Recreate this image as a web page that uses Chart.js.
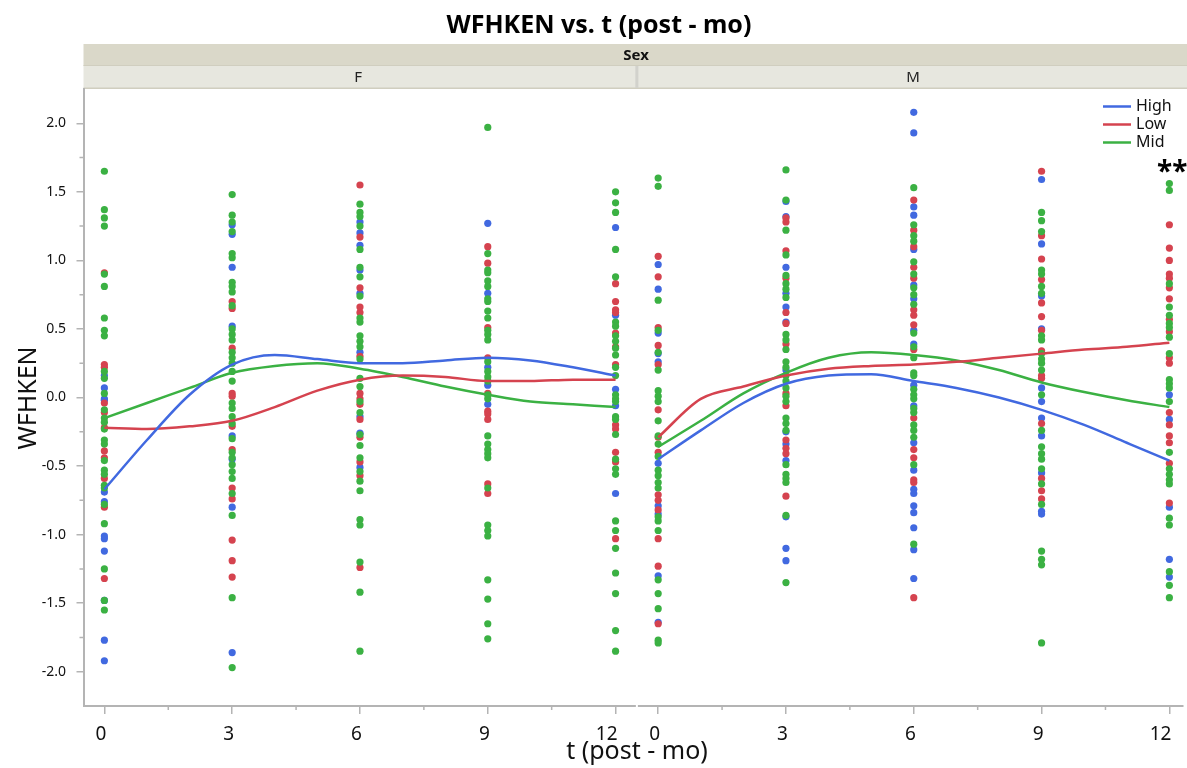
<!DOCTYPE html>
<html>
<head>
<meta charset="utf-8">
<script src="https://cdn.jsdelivr.net/npm/chart.js@4.4.1/dist/chart.umd.min.js"></script>
<style>
  html, body { margin: 0; padding: 0; background: #fff; overflow: hidden; }
</style>
</head>
<body>
<canvas id="chart" width="1187" height="768"></canvas>
<script>
// time points (months after) shared by both panels
const times = [0, 3, 6, 9, 12];
const groups = ['High', 'Low', 'Mid'];
const panels = ['F', 'M'];
const yTicks = [-2, -1.5, -1, -0.5, 0, 0.5, 1, 1.5, 2];

// WFHKEN values per time point, panel F
const fHigh = [
  [0.16, 0.07, -0.01, -0.02, -0.69, -0.76, -1.01, -1.03, -1.12, -1.48, -1.77, -1.92],
  [1.26, 1.19, 0.95, 0.52, -0.28, -0.45, -0.80, -1.86],
  [1.28, 1.20, 1.11, 0.93, 0.76, 0.33, -0.14, -0.26, -0.51],
  [1.27, 0.76, 0.22, 0.09, -0.05],
  [1.24, 0.60, 0.06, -0.06, -0.70]
];
const fLow = [
  [0.91, 0.24, 0.22, -0.04, -0.11, -0.22, -0.39, -0.44, -0.59, -0.80, -1.32],
  [0.70, 0.65, 0.36, 0.03, 0.01, -0.21, -0.38, -0.66, -0.74, -1.04, -1.19, -1.31],
  [1.55, 1.17, 0.80, 0.66, 0.62, 0.30, 0.03, -0.01, -0.05, -0.16, -0.29, -0.47, -0.57, -1.24],
  [1.10, 0.98, 0.51, 0.29, 0.03, -0.10, -0.12, -0.16, -0.63, -0.70],
  [0.83, 0.70, 0.64, 0.62, 0.47, 0.37, 0.24, -0.20, -0.23, -0.40, -0.47, -1.03]
];
const fMid = [
  [1.65, 1.37, 1.31, 1.25, 0.90, 0.81, 0.58, 0.49, 0.45, 0.19, 0.14, 0.03, -0.09, -0.15, -0.18, -0.23, -0.31, -0.34, -0.46, -0.53, -0.56, -0.64, -0.66, -0.78, -0.92, -1.25, -1.48, -1.55],
  [1.48, 1.33, 1.28, 1.21, 1.05, 1.02, 0.84, 0.81, 0.77, 0.67, 0.50, 0.46, 0.42, 0.33, 0.29, 0.25, 0.19, 0.12, -0.04, -0.08, -0.14, -0.19, -0.30, -0.40, -0.44, -0.49, -0.54, -0.59, -0.70, -0.86, -1.46, -1.97],
  [1.41, 1.35, 1.32, 1.25, 1.08, 0.95, 0.88, 0.74, 0.58, 0.55, 0.45, 0.41, 0.37, 0.28, 0.14, 0.08, -0.03, -0.11, -0.27, -0.35, -0.44, -0.54, -0.61, -0.68, -0.89, -0.93, -1.20, -1.42, -1.85],
  [1.97, 1.05, 0.93, 0.91, 0.85, 0.81, 0.72, 0.70, 0.63, 0.58, 0.49, 0.46, 0.42, 0.26, 0.19, 0.15, 0.12, 0.02, -0.01, -0.28, -0.34, -0.38, -0.41, -0.44, -0.66, -0.93, -0.97, -1.01, -1.33, -1.47, -1.65, -1.76],
  [1.50, 1.42, 1.35, 1.08, 0.88, 0.55, 0.52, 0.45, 0.41, 0.36, 0.31, 0.22, 0.16, 0.02, -0.01, -0.03, -0.14, -0.16, -0.27, -0.45, -0.52, -0.56, -0.90, -0.97, -1.10, -1.28, -1.43, -1.70, -1.85]
];

// WFHKEN values per time point, panel M
const mHigh = [
  [0.97, 0.79, 0.47, 0.32, 0.26, -0.48, -0.79, -0.85, -1.30, -1.64],
  [1.43, 1.32, 0.95, 0.76, 0.66, 0.55, 0.20, -0.25, -0.34, -0.46, -0.87, -1.10, -1.19],
  [2.08, 1.93, 1.39, 1.33, 1.08, 0.82, 0.72, 0.49, 0.39, 0.09, -0.06, -0.33, -0.53, -0.67, -0.70, -0.79, -0.84, -0.95, -1.11, -1.32],
  [1.59, 1.12, 0.74, 0.50, 0.07, -0.03, -0.15, -0.28, -0.55, -0.83, -0.85],
  [0.02, -0.16, -0.80, -1.18, -1.31]
];
const mLow = [
  [1.03, 0.88, 0.51, 0.38, 0.24, -0.09, -0.29, -0.40, -0.71, -0.75, -0.82, -1.03, -1.23, -1.65],
  [1.31, 1.28, 1.07, 0.87, 0.62, 0.54, 0.39, 0.03, -0.06, -0.31, -0.37, -0.41, -0.72],
  [1.44, 1.22, 1.10, 0.95, 0.87, 0.64, 0.60, 0.53, 0.35, -0.15, -0.38, -0.44, -0.60, -0.62, -1.46],
  [1.65, 1.18, 1.01, 0.86, 0.69, 0.59, 0.49, 0.34, 0.16, 0.14, -0.19, -0.59, -0.68, -0.74],
  [1.26, 1.09, 1.00, 0.90, 0.87, 0.80, 0.72, 0.57, 0.48, 0.29, 0.25, -0.11, -0.20, -0.28, -0.33, -0.48, -0.77]
];
const mMid = [
  [1.60, 1.54, 0.71, 0.49, 0.33, 0.20, 0.05, 0.01, -0.03, -0.17, -0.28, -0.34, -0.43, -0.53, -0.57, -0.62, -0.66, -0.87, -0.90, -0.97, -1.33, -1.43, -1.54, -1.77, -1.79],
  [1.66, 1.44, 1.22, 1.04, 0.89, 0.83, 0.79, 0.73, 0.46, 0.42, 0.35, 0.26, 0.22, 0.16, 0.12, 0.07, 0.01, -0.03, -0.15, -0.19, -0.24, -0.49, -0.56, -0.59, -0.62, -0.86, -1.35],
  [1.53, 1.26, 1.18, 1.14, 0.99, 0.90, 0.80, 0.75, 0.68, 0.47, 0.37, 0.29, 0.18, 0.16, 0.06, 0.02, -0.01, -0.08, -0.11, -0.20, -0.24, -0.29, -0.49, -1.07],
  [1.35, 1.29, 1.21, 0.93, 0.90, 0.81, 0.76, 0.45, 0.42, 0.32, 0.28, 0.25, 0.20, 0.02, -0.24, -0.36, -0.41, -0.45, -0.52, -0.63, -0.78, -1.12, -1.18, -1.22, -1.79],
  [1.56, 1.51, 0.83, 0.66, 0.60, 0.54, 0.51, 0.44, 0.32, 0.13, 0.10, 0.07, -0.03, -0.40, -0.52, -0.56, -0.60, -0.63, -0.88, -0.93, -1.27, -1.37, -1.46]
];

// smoother curves at t = 0..12
const fitT = [0, 1, 2, 3, 4, 5, 6, 7, 8, 9, 10, 11, 12];
const fHighFit = [-0.67, -0.31, 0.02, 0.24, 0.31, 0.28, 0.25, 0.25, 0.27, 0.29, 0.27, 0.22, 0.16];
const fLowFit  = [-0.22, -0.23, -0.21, -0.17, -0.07, 0.05, 0.13, 0.16, 0.15, 0.12, 0.12, 0.13, 0.13];
const fMidFit  = [-0.15, -0.04, 0.07, 0.18, 0.23, 0.25, 0.21, 0.15, 0.08, 0.02, -0.03, -0.05, -0.07];
const mHighFit = [-0.45, -0.24, -0.04, 0.10, 0.16, 0.17, 0.12, 0.07, 0.00, -0.09, -0.20, -0.33, -0.46];
const mLowFit  = [-0.29, -0.01, 0.08, 0.16, 0.21, 0.23, 0.24, 0.26, 0.29, 0.32, 0.35, 0.37, 0.40];
const mMidFit  = [-0.36, -0.17, 0.03, 0.18, 0.29, 0.33, 0.31, 0.27, 0.20, 0.11, 0.04, -0.02, -0.07];

const colors = { High: '#4169e0', Low: '#d5434f', Mid: '#3bb143' };
const M_OFFSET = 13;   // second panel shifted along the shared x scale
const FONT = '"Noto Sans", "Open Sans", sans-serif';

const pointSets = { F: { High: fHigh, Low: fLow, Mid: fMid }, M: { High: mHigh, Low: mLow, Mid: mMid } };
const fitSets = { F: { High: fHighFit, Low: fLowFit, Mid: fMidFit }, M: { High: mHighFit, Low: mLowFit, Mid: mMidFit } };
const pointOrder = { High: 3, Low: 2, Mid: 1 };

const datasets = [];
panels.forEach(function(p) {
  const off = p === 'M' ? M_OFFSET : 0;
  groups.forEach(function(g) {
    const pts = [];
    pointSets[p][g].forEach(function(col, i) {
      col.forEach(function(v) { pts.push({ x: times[i] + off, y: v }); });
    });
    datasets.push({
      label: p + ' ' + g,
      data: pts,
      backgroundColor: colors[g],
      borderColor: colors[g],
      borderWidth: 0,
      pointRadius: 3.6,
      order: pointOrder[g]
    });
  });
  groups.forEach(function(g) {
    datasets.push({
      label: p + ' ' + g + ' fit',
      data: fitT.map(function(t, i) { return { x: t + off, y: fitSets[p][g][i] }; }),
      showLine: true,
      borderColor: colors[g],
      borderWidth: 2.5,
      pointRadius: 0,
      cubicInterpolationMode: 'monotone',
      order: 0
    });
  });
});

function panelSplit(chart) {
  const xs = chart.scales.x;
  return (xs.getPixelForValue(12) + xs.getPixelForValue(M_OFFSET)) / 2;
}

const decor = {
  id: 'decor',
  beforeDraw(chart) {
    const c = chart.ctx;
    const a = chart.chartArea;
    const W = chart.width;
    const split = panelSplit(chart);
    c.save();
    c.fillStyle = '#fff';
    c.fillRect(0, 0, W, chart.height);
    // header strips
    c.fillStyle = '#dad8c9';
    c.fillRect(a.left, 44, W - a.left, 22);
    c.fillStyle = '#e7e7df';
    c.fillRect(a.left, 66, W - a.left, 23);
    c.fillStyle = '#d0cebf';
    c.fillRect(a.left, 65, W - a.left, 1);
    c.fillRect(a.left, 87.5, W - a.left, 1.5);
    c.fillStyle = '#d2d2cc';
    c.fillRect(split - 1.5, 66, 3, 22);
    c.textAlign = 'center';
    c.textBaseline = 'middle';
    c.fillStyle = '#111';
    c.font = 'bold 15px ' + FONT;
    c.fillText('Sex', 636, 56);
    c.font = '15px ' + FONT;
    c.fillStyle = '#222';
    c.fillText('F', (a.left + split) / 2 - 2, 78);
    c.fillText('M', split + (W + 8 - split) / 2 - 3, 78);
    // titles
    c.textBaseline = 'alphabetic';
    c.fillStyle = '#000';
    c.font = 'bold 25px ' + FONT;
    c.fillText('WFHKEN vs. t (post - mo)', 599, 33);
    c.font = '25px ' + FONT;
    c.fillStyle = '#111';
    c.fillText('t (post - mo)', 637, 759);
    c.save();
    c.translate(36, 398);
    c.rotate(-Math.PI / 2);
    c.fillText('WFHKEN', 0, 0);
    c.restore();
    c.restore();
  },
  afterDraw(chart) {
    const c = chart.ctx;
    const a = chart.chartArea;
    const xs = chart.scales.x;
    const ys = chart.scales.y;
    const split = panelSplit(chart);
    c.save();
    // gap in the x axis line between panels
    c.fillStyle = '#fff';
    c.fillRect(split - 1, a.bottom - 2, 2, 4);
    // minor ticks
    c.strokeStyle = '#b4b4b4';
    c.lineWidth = 1.5;
    c.beginPath();
    for (let v = -1.75; v < 2; v += 0.5) {
      const y = ys.getPixelForValue(v);
      c.moveTo(a.left - 4, y);
      c.lineTo(a.left, y);
    }
    [1.5, 4.5, 7.5, 10.5].forEach(function(t) {
      [0, M_OFFSET].forEach(function(off) {
        const x = xs.getPixelForValue(t + off);
        c.moveTo(x, a.bottom);
        c.lineTo(x, a.bottom + 4);
      });
    });
    c.stroke();
    // x tick labels, one set per panel
    c.fillStyle = '#111';
    c.font = '19px ' + FONT;
    c.textAlign = 'right';
    c.textBaseline = 'alphabetic';
    [0, M_OFFSET].forEach(function(off) {
      times.forEach(function(t) {
        c.fillText(String(t), xs.getPixelForValue(t + off) + 2, 740);
      });
    });
    // legend
    c.font = '16px ' + FONT;
    c.textAlign = 'left';
    c.textBaseline = 'middle';
    groups.forEach(function(g, i) {
      const y = 106.5 + i * 18;
      c.strokeStyle = colors[g];
      c.lineWidth = 2.5;
      c.beginPath();
      c.moveTo(1103, y);
      c.lineTo(1131, y);
      c.stroke();
      c.fillStyle = '#111';
      c.fillText(g, 1136, y);
    });
    // significance marker
    c.fillStyle = '#000';
    c.font = 'bold 28px ' + FONT;
    c.fillText('**', 1157, 173);
    c.restore();
  }
};

new Chart(document.getElementById('chart'), {
  type: 'scatter',
  data: { datasets: datasets },
  plugins: [decor],
  options: {
    responsive: false,
    animation: false,
    devicePixelRatio: 1,
    layout: { padding: { top: 89, right: 0, bottom: 0, left: 0 } },
    plugins: { legend: { display: false }, tooltip: { enabled: false }, title: { display: false } },
    scales: {
      x: {
        type: 'linear',
        min: -0.49,
        max: 25.32,
        afterFit: function(s) { s.height = 62; },
        afterBuildTicks: function(s) {
          s.ticks = times.concat(times.map(function(t) { return t + M_OFFSET; })).map(function(v) { return { value: v }; });
        },
        grid: { drawOnChartArea: false, tickLength: 8, color: '#b4b4b4', lineWidth: 1.5 },
        border: { color: '#b4b4b4', width: 2 },
        ticks: { display: false }
      },
      y: {
        min: -2.25,
        max: 2.25,
        afterFit: function(s) { s.width = 83.5; },
        afterBuildTicks: function(s) {
          s.ticks = yTicks.map(function(v) { return { value: v }; });
        },
        grid: { drawOnChartArea: false, tickLength: 7, color: '#b4b4b4', lineWidth: 1.5 },
        border: { color: '#b4b4b4', width: 2 },
        ticks: {
          padding: 10.5,
          color: '#111',
          font: { family: FONT, size: 14 },
          callback: function(v) { return v.toFixed(1); }
        }
      }
    }
  }
});
</script>
</body>
</html>
